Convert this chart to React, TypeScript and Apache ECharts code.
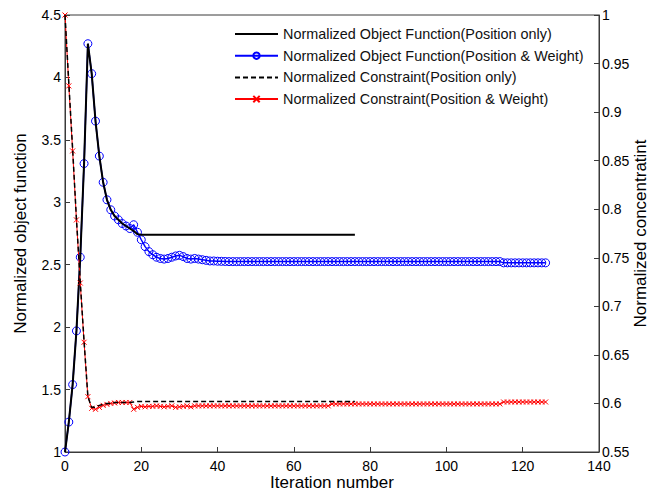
import React, { useEffect, useRef } from "react";
import * as echarts from "echarts";

const legendNames = [
  "Normalized Object Function(Position only)",
  "Normalized Object Function(Position & Weight)",
  "Normalized Constraint(Position only)",
  "Normalized Constraint(Position & Weight)",
];

const xTicks = [0, 20, 40, 60, 80, 100, 120, 140];

// Normalized object function, position only (iterations 0..76)
const objPosOnly = [
  1.0, 1.24, 1.54, 1.97, 2.56, 3.31, 4.27, 4.03, 3.65, 3.37,
  3.16, 3.02, 2.94, 2.89, 2.86, 2.83, 2.81, 2.79, 2.77, 2.745,
  2.74, 2.74, 2.74, 2.74, 2.74, 2.74, 2.74, 2.74, 2.74, 2.74,
  2.74, 2.74, 2.74, 2.74, 2.74, 2.74, 2.74, 2.74, 2.74, 2.74,
  2.74, 2.74, 2.74, 2.74, 2.74, 2.74, 2.74, 2.74, 2.74, 2.74,
  2.74, 2.74, 2.74, 2.74, 2.74, 2.74, 2.74, 2.74, 2.74, 2.74,
  2.74, 2.74, 2.74, 2.74, 2.74, 2.74, 2.74, 2.74, 2.74, 2.74,
  2.74, 2.74, 2.74, 2.74, 2.74, 2.74, 2.74,
];

// Normalized object function, position & weight (iterations 0..126)
const objPosWeight = [
  1.0, 1.24, 1.54, 1.97, 2.56, 3.31, 4.27, 4.03, 3.65, 3.37,
  3.16, 3.02, 2.94, 2.89, 2.86, 2.83, 2.81, 2.79, 2.82, 2.76,
  2.70, 2.645, 2.605, 2.58, 2.56, 2.55, 2.545, 2.55, 2.56, 2.57,
  2.575, 2.565, 2.55, 2.545, 2.55, 2.545, 2.54, 2.535, 2.53, 2.53,
  2.528, 2.527, 2.526, 2.525, 2.525, 2.525, 2.525, 2.525, 2.525, 2.525,
  2.525, 2.525, 2.525, 2.525, 2.525, 2.525, 2.525, 2.525, 2.525, 2.525,
  2.525, 2.525, 2.525, 2.525, 2.525, 2.525, 2.525, 2.525, 2.525, 2.525,
  2.525, 2.525, 2.525, 2.525, 2.525, 2.525, 2.525, 2.525, 2.525, 2.525,
  2.525, 2.525, 2.525, 2.525, 2.525, 2.525, 2.525, 2.525, 2.525, 2.525,
  2.525, 2.525, 2.525, 2.525, 2.525, 2.525, 2.525, 2.525, 2.525, 2.525,
  2.525, 2.525, 2.525, 2.525, 2.525, 2.525, 2.525, 2.525, 2.525, 2.525,
  2.525, 2.525, 2.525, 2.525, 2.525, 2.515, 2.515, 2.515, 2.515, 2.515,
  2.515, 2.515, 2.515, 2.515, 2.515, 2.515, 2.515,
];

// Normalized constraint, position only (iterations 0..76)
const conPosOnly = [
  1.0, 0.93, 0.862, 0.79, 0.725, 0.664, 0.607, 0.596, 0.596, 0.598,
  0.599, 0.6, 0.6, 0.601, 0.601, 0.601, 0.601, 0.601, 0.6015, 0.602,
  0.602, 0.602, 0.602, 0.602, 0.602, 0.602, 0.602, 0.602, 0.602, 0.602,
  0.602, 0.602, 0.602, 0.602, 0.602, 0.602, 0.602, 0.602, 0.602, 0.602,
  0.602, 0.602, 0.602, 0.602, 0.602, 0.602, 0.602, 0.602, 0.602, 0.602,
  0.602, 0.602, 0.602, 0.602, 0.602, 0.602, 0.602, 0.602, 0.602, 0.602,
  0.602, 0.602, 0.602, 0.602, 0.602, 0.602, 0.602, 0.602, 0.602, 0.602,
  0.602, 0.602, 0.602, 0.602, 0.602, 0.602, 0.602,
];

// Normalized constraint, position & weight (iterations 0..126)
const conPosWeight = [
  1.0, 0.927, 0.86, 0.789, 0.724, 0.663, 0.607, 0.595, 0.594, 0.596,
  0.598, 0.599, 0.6, 0.6005, 0.601, 0.601, 0.601, 0.601, 0.594, 0.596,
  0.597, 0.5965, 0.597, 0.597, 0.5975, 0.597, 0.5965, 0.597, 0.5975, 0.596,
  0.5965, 0.597, 0.5975, 0.5965, 0.5975, 0.5975, 0.5975, 0.5975, 0.5975, 0.5975,
  0.5975, 0.5975, 0.5975, 0.5975, 0.5975, 0.5975, 0.5975, 0.5975, 0.5975, 0.5975,
  0.5975, 0.5975, 0.5975, 0.5975, 0.5975, 0.5975, 0.5975, 0.5975, 0.5975, 0.5975,
  0.5975, 0.5975, 0.5975, 0.5975, 0.5975, 0.5975, 0.5975, 0.5975, 0.5975, 0.5975,
  0.5995, 0.5995, 0.5995, 0.5995, 0.5995, 0.5995, 0.5995, 0.5995, 0.5995, 0.5995,
  0.5995, 0.5995, 0.5995, 0.5995, 0.5995, 0.5995, 0.5995, 0.5995, 0.5995, 0.5995,
  0.5995, 0.5995, 0.5995, 0.5995, 0.5995, 0.5995, 0.5995, 0.5995, 0.5995, 0.5995,
  0.5995, 0.5995, 0.5995, 0.5995, 0.5995, 0.5995, 0.5995, 0.5995, 0.5995, 0.5995,
  0.5995, 0.5995, 0.5995, 0.5995, 0.5995, 0.6015, 0.6015, 0.6015, 0.6015, 0.6015,
  0.6015, 0.6015, 0.6015, 0.6015, 0.6015, 0.6015, 0.6015,
];

const toPairs = (vals: number[]) => vals.map((v, i) => [i, v]);

const FONT = "Liberation Sans";
const AXIS_COLOR = "#3a3a3a";

export default function App() {
  const ref = useRef<HTMLDivElement>(null);

  useEffect(() => {
    if (!ref.current) return;
    const chart = echarts.init(ref.current, null, { renderer: "svg" });
    const crossPath = "path://M0,0L10,10M10,0L0,10";
    chart.setOption({
      animation: false,
      backgroundColor: "#fff",
      textStyle: { fontFamily: FONT },
      grid: {
        left: 65,
        right: 51,
        top: 15,
        bottom: 43,
        outerBoundsMode: "none",
        containLabel: false,
        show: true,
        borderColor: AXIS_COLOR,
        borderWidth: 1,
        backgroundColor: "transparent",
      },
      legend: {
        data: [
          { name: legendNames[0], itemStyle: { opacity: 0 } },
          { name: legendNames[1] },
          { name: legendNames[2], itemStyle: { opacity: 0 } },
          { name: legendNames[3] },
        ],
        orient: "vertical",
        left: 229,
        top: 22,
        itemWidth: 43,
        itemHeight: 8,
        itemGap: 7.7,
        textStyle: { fontFamily: FONT, fontSize: 14.4, color: "#111" },
      },
      xAxis: {
        type: "value",
        min: xTicks[0],
        max: xTicks[xTicks.length - 1],
        interval: 20,
        name: "Iteration number",
        nameLocation: "middle",
        nameGap: 22,
        nameMoveOverlap: false,
        nameTextStyle: { fontFamily: FONT, fontSize: 17, color: "#000" },
        axisLine: { show: true, lineStyle: { color: AXIS_COLOR, width: 1 } },
        axisTick: { show: true, inside: true, length: 5, lineStyle: { color: AXIS_COLOR } },
        axisLabel: { fontFamily: FONT, fontSize: 14, color: "#000", margin: 7 },
        splitLine: { show: false },
      },
      yAxis: [
        {
          type: "value",
          min: 1,
          max: 4.5,
          interval: 0.5,
          name: "Normalized object function",
          nameLocation: "middle",
          nameRotate: 90,
          nameGap: 36,
          nameMoveOverlap: false,
          nameTextStyle: { fontFamily: FONT, fontSize: 17, color: "#000" },
          axisLine: { show: true, lineStyle: { color: AXIS_COLOR, width: 1 } },
          axisTick: { show: true, inside: true, length: 5, lineStyle: { color: AXIS_COLOR } },
          axisLabel: { fontFamily: FONT, fontSize: 14, color: "#000", margin: 4 },
          splitLine: { show: false },
        },
        {
          type: "value",
          min: 0.55,
          max: 1,
          interval: 0.05,
          position: "right",
          name: "Normalized concentratint",
          nameLocation: "middle",
          nameRotate: 90,
          nameGap: 33,
          nameMoveOverlap: false,
          nameTextStyle: { fontFamily: FONT, fontSize: 17, color: "#000" },
          axisLine: { show: true, lineStyle: { color: AXIS_COLOR, width: 1 } },
          axisTick: { show: true, inside: true, length: 5, lineStyle: { color: AXIS_COLOR } },
          axisLabel: { fontFamily: FONT, fontSize: 14, color: "#000", margin: 3 },
          splitLine: { show: false },
        },
      ],
      series: [
        {
          name: legendNames[1],
          type: "line",
          yAxisIndex: 0,
          data: toPairs(objPosWeight),
          symbol: "circle",
          symbolSize: 8,
          showAllSymbol: true,
          lineStyle: { color: "#0000ff", width: 1.5 },
          itemStyle: { color: "transparent", borderColor: "#0000ff", borderWidth: 1 },
          z: 2,
        },
        {
          name: legendNames[0],
          type: "line",
          yAxisIndex: 0,
          data: toPairs(objPosOnly),
          symbol: "none",
          lineStyle: { color: "#000", width: 2 },
          itemStyle: { color: "#000" },
          z: 3,
        },
        {
          name: legendNames[3],
          type: "line",
          yAxisIndex: 1,
          data: toPairs(conPosWeight),
          symbol: crossPath,
          symbolSize: 5,
          showAllSymbol: true,
          lineStyle: { color: "#ff0000", width: 1 },
          itemStyle: { color: "#ff0000", borderColor: "#ff0000", borderWidth: 1 },
          z: 4,
        },
        {
          name: legendNames[2],
          type: "line",
          yAxisIndex: 1,
          data: toPairs(conPosOnly),
          symbol: "none",
          lineStyle: { color: "#000", width: 1.5, type: [5, 3] },
          itemStyle: { color: "#000" },
          z: 5,
        },
      ],
    });
    return () => chart.dispose();
  }, []);

  return (
    <div
      ref={ref}
      style={{ position: "absolute", left: 0, top: 0, width: 650, height: 495, background: "#fff" }}
    />
  );
}
